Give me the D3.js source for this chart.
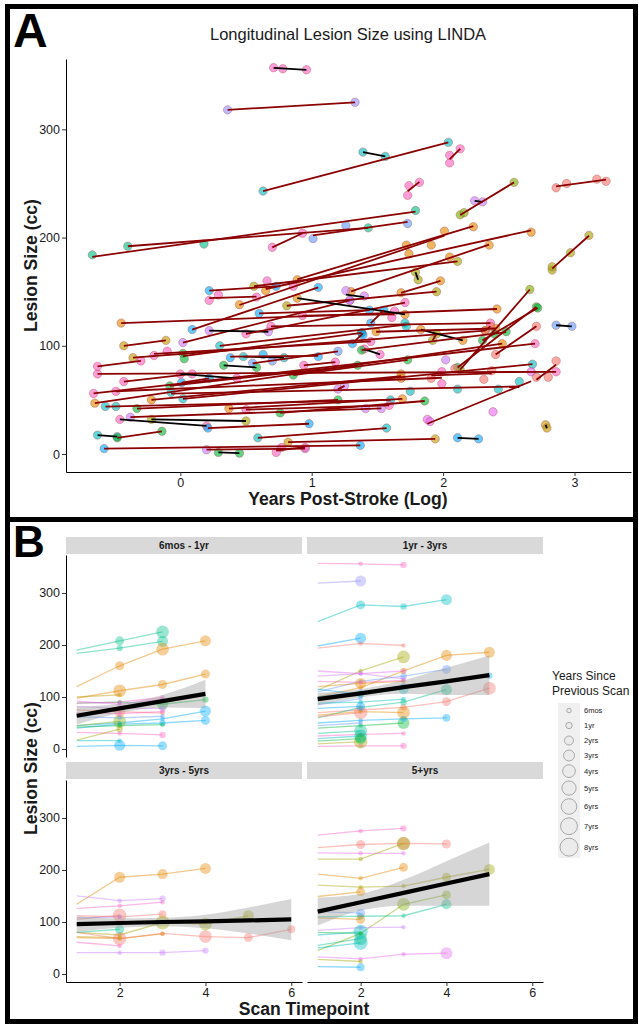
<!DOCTYPE html>
<html>
<head>
<meta charset="utf-8">
<script src="https://cdn.jsdelivr.net/npm/d3@7"></script>
<style>
    body { margin: 0; background: #fff; }
    text { font-family: "Liberation Sans", Arial, sans-serif; }
</style>
</head>
<body>
<div id="chart"></div>
<script>

// ---- Data ----

// Panel A: one entry per subject, x = log years post-stroke, y = lesion size (cc)
var subjectsA = [
    {col: "pk", x: [0.71, 0.78, 0.96], y: [357, 356, 355]},
    {col: "lv", x: [0.36, 1.33], y: [318, 325]},
    {col: "tl", x: [0.63, 2.04], y: [243, 288]},
    {col: "tl", x: [1.39, 1.56], y: [279, 275]},
    {col: "pk", x: [2.05, 2.05, 2.13], y: [269, 276, 282]},
    {col: "pk", x: [1.73, 1.74, 1.82], y: [239, 248, 251]},
    {col: "sg", x: [-0.67, 0.18, 1.79], y: [184, 194, 225]},
    {col: "sg", x: [-0.40, 1.43], y: [192, 209]},
    {col: "pk", x: [0.70, 0.93], y: [191, 204]},
    {col: "lb", x: [1.01, 1.26, 1.73], y: [199, 211, 213]},
    {col: "pu", x: [2.24, 2.30], y: [234, 233]},
    {col: "yg", x: [2.13, 2.16, 2.54], y: [221, 223, 251]},
    {col: "sa", x: [2.86, 2.94, 3.17, 3.24], y: [246, 250, 254, 252]},
    {col: "ol", x: [2.83, 2.83, 2.97, 3.11], y: [170, 173, 186, 202]},
    {col: "or", x: [0.89, 1.72, 2.23], y: [161, 193, 210]},
    {col: "or", x: [0.65, 1.74, 2.67], y: [151, 185, 205]},
    {col: "or", x: [0.45, 1.91, 2.01], y: [138, 193, 206]},
    {col: "or", x: [1.30, 2.05, 2.35], y: [150, 182, 193]},
    {col: "bl", x: [0.09, 1.05], y: [115, 154]},
    {col: "ol", x: [1.79, 1.81], y: [168, 161]},
    {col: "pk", x: [0.22, 0.29, 0.58], y: [142, 147, 145]},
    {col: "bl", x: [0.22, 0.73], y: [151, 155]},
    {col: "pk", x: [0.66], y: [160]},
    {col: "pk", x: [0.86], y: [155]},
    {col: "ol", x: [0.56, 2.11], y: [155, 178]},
    {col: "or", x: [-0.45, 2.41], y: [121, 134]},
    {col: "pk", x: [-0.63, 2.86], y: [74, 76]},
    {col: "pk", x: [-0.63, -0.30], y: [81, 86]},
    {col: "pk", x: [-0.66, 2.70], y: [56, 102]},
    {col: "or", x: [-0.65, 2.45], y: [47, 102]},
    {col: "tl", x: [-0.57, -0.49, 1.60], y: [44, 44, 50]},
    {col: "tl", x: [-0.63, -0.48], y: [17.5, 16]},
    {col: "gr", x: [-0.48, -0.14], y: [15, 21]},
    {col: "bl", x: [-0.58, 1.37], y: [5, 8]},
    {col: "pk", x: [-0.49, 1.99, 1.99], y: [58, 65, 76]},
    {col: "pk", x: [-0.43, 0.09], y: [67, 74]},
    {col: "pk", x: [0.00, 0.43], y: [74, 70]},
    {col: "pk", x: [-0.46, 0.20], y: [32, 26]},
    {col: "pu", x: [-0.38, 1.41, 1.53], y: [34, 42, 42]},
    {col: "go", x: [-0.36, 2.32], y: [89, 114]},
    {col: "go", x: [-0.43, -0.11], y: [100, 105]},
    {col: "gr", x: [-0.33, 1.20], y: [42, 50]},
    {col: "ol", x: [-0.22, 0.50], y: [32, 30.5]},
    {col: "pk", x: [-0.20, -0.10, 1.45], y: [91, 95, 104]},
    {col: "or", x: [-0.22, 1.68, 1.68], y: [50, 70, 74]},
    {col: "gr", x: [-0.08, 1.35], y: [63, 82]},
    {col: "tl", x: [-0.07, 1.75, 2.11, 2.42, 2.58], y: [57, 58, 60, 60, 67]},
    {col: "tl", x: [0.02, 2.68], y: [51, 83]},
    {col: "bl", x: [0.01, 0.22], y: [66, 70]},
    {col: "pu", x: [0.02, 1.29], y: [103, 142]},
    {col: "gr", x: [0.02, 0.03, 1.38], y: [93, 88, 112]},
    {col: "bl", x: [0.21, 0.98], y: [24, 28]},
    {col: "pu", x: [0.20, 0.95], y: [4, 5]},
    {col: "gr", x: [0.29, 0.45], y: [1.5, 0.8]},
    {col: "pu", x: [0.22, 0.67], y: [114, 113]},
    {col: "or", x: [0.37, 1.69], y: [42, 51]},
    {col: "pk", x: [0.50, 1.59], y: [41, 45]},
    {col: "gr", x: [0.33, 0.58], y: [82, 80]},
    {col: "tl", x: [0.48, 0.79], y: [90, 89]},
    {col: "pk", x: [0.50, 1.71], y: [111, 140]},
    {col: "ol", x: [0.81, 1.95], y: [137, 150]},
    {col: "pk", x: [0.73, 0.77, 0.95], y: [1.5, 6, 6]},
    {col: "go", x: [0.82, 1.94], y: [11, 14]},
    {col: "tl", x: [0.59, 1.57], y: [15, 24]},
    {col: "gr", x: [0.76, 1.86], y: [38, 49]},
    {col: "gr", x: [0.86, 1.73], y: [73, 87]},
    {col: "pk", x: [1.40, 1.52], y: [97, 92]},
    {col: "pk", x: [0.93, 1.61, 1.63], y: [128, 126, 132]},
    {col: "pk", x: [0.69, 2.36], y: [118, 121]},
    {col: "or", x: [0.89, 1.71], y: [144, 129]},
    {col: "bl", x: [0.60, 1.44], y: [130, 133]},
    {col: "pu", x: [1.26, 1.29, 1.40], y: [151, 142, 146]},
    {col: "tl", x: [0.30, 1.71, 1.72], y: [100, 121, 118]},
    {col: "or", x: [1.83, 2.15], y: [115, 105]},
    {col: "ol", x: [1.92, 1.95], y: [105, 111]},
    {col: "or", x: [1.49, 2.40], y: [113, 116]},
    {col: "bl", x: [1.31, 1.38, 1.39], y: [102, 112, 110]},
    {col: "gr", x: [1.38, 2.39, 2.48], y: [96, 111, 113]},
    {col: "or", x: [1.68, 1.98], y: [149, 160]},
    {col: "gr", x: [2.11, 2.71], y: [80, 136]},
    {col: "yg", x: [2.13, 2.66], y: [78, 152]},
    {col: "gr", x: [2.30, 2.72], y: [105, 135]},
    {col: "sa", x: [1.91, 2.09, 2.31, 2.37], y: [70, 79, 69, 77]},
    {col: "sa", x: [2.71, 2.80, 2.86], y: [71, 71, 86]},
    {col: "lb", x: [2.86, 2.98], y: [119, 118]},
    {col: "go", x: [2.78, 2.79], y: [27, 24]},
    {col: "bl", x: [2.11, 2.27], y: [15, 14]},
    {col: "mg", x: [1.88, 1.90, 2.38, 2.67], y: [32, 30, 39, 76]},
    {col: "sa", x: [2.40, 2.71], y: [92, 118]},
    {col: "sa", x: [2.32, 2.36], y: [114, 118]},
    {col: "bl", x: [0.38, 0.63, 1.05], y: [89, 92, 90]},
    {col: "lb", x: [0.55, 0.70, 1.20], y: [84, 86, 95]},
    {col: "pk", x: [0.94, 1.18], y: [82, 85]},
    {col: "pu", x: [1.20, 1.25], y: [60, 63]},
    {col: "bl", x: [1.45, 1.55], y: [121, 133]},
    {col: "pu", x: [2.02], y: [87]}
];

var xTicksA = [0, 1, 2, 3];
var yTicksA = [0, 100, 200, 300];

// Panel B: facets by time post-stroke at baseline, y by scan timepoint (1, 2, ...)
// gap = years since the previous scan (no point drawn for the first scan)
var facetNames = ["6mos - 1yr", "1yr - 3yrs", "3yrs - 5yrs", "5+yrs"];

var facet6mo = [
    {col: "sg", y: [190, 208, 225], gap: [null, 2, 4]},
    {col: "sg", y: [184, 194, 207], gap: [null, 1, 3]},
    {col: "or", y: [120, 160, 192, 208], gap: [null, 2, 4, 3]},
    {col: "or", y: [98, 112, 124, 144], gap: [null, 4, 2, 2]},
    {col: "gr", y: [88, 90, 86, 95], gap: [null, 0.5, 3, 1]},
    {col: "bl", y: [45, 50, 58, 73], gap: [null, 0.5, 0.5, 3]},
    {col: "bl", y: [40, 48, 50, 55], gap: [null, 0.5, 1, 2]},
    {col: "bl", y: [5, 7, 6], gap: [null, 3, 2]},
    {col: "yg", y: [45, 53], gap: [null, 4]},
    {col: "pk", y: [88, 90, 99], gap: [null, 0.5, 0.5]},
    {col: "pk", y: [32, 30, 27], gap: [null, 0.5, 1]},
    {col: "tl", y: [16, 16], gap: [null, 0.5]},
    {col: "ol", y: [17, 38], gap: [null, 1]},
    {col: "sa", y: [75, 72, 69], gap: [null, 3, 0.5]},
    {col: "pu", y: [82, 78, 78], gap: [null, 0.5, 1]},
    {col: "go", y: [100, 104], gap: [null, 0.5]},
    {col: "pk", y: [70, 68, 72], gap: [null, 0.5, 0.5]},
    {col: "lb", y: [62, 60, 63], gap: [null, 0.5, 0.5]},
    {col: "gr", y: [42, 45, 47], gap: [null, 0.5, 0.5]},
    {col: "mg", y: [92, 86, 96], gap: [null, 0.5, 0.5]}
];

var facet1yr = [
    {col: "pk", y: [357, 356, 354], gap: [null, 0.5, 1]},
    {col: "lv", y: [319, 323], gap: [null, 3]},
    {col: "tl", y: [245, 277, 274, 287], gap: [null, 2, 1, 3]},
    {col: "bl", y: [198, 213], gap: [null, 3]},
    {col: "sa", y: [194, 203, 199], gap: [null, 0.5, 0.5]},
    {col: "ol", y: [113, 150, 177], gap: [null, 0.5, 4]},
    {col: "or", y: [100, 118, 150, 180, 186], gap: [null, 0.5, 1, 3, 3]},
    {col: "lb", y: [110, 130, 140, 153], gap: [null, 0.5, 1, 2]},
    {col: "sa", y: [70, 75, 80, 91, 117], gap: [null, 0.5, 1, 2, 4]},
    {col: "bl", y: [100, 110, 120, 130, 141], gap: [null, 0.5, 1, 0.5, 1]},
    {col: "sg", y: [60, 80, 90, 114], gap: [null, 0.5, 1, 3]},
    {col: "gr", y: [40, 45, 50], gap: [null, 0.5, 3.5]},
    {col: "bl", y: [50, 55, 58, 60], gap: [null, 0.5, 1, 1.5]},
    {col: "pk", y: [25, 28, 30], gap: [null, 0.5, 0.5]},
    {col: "pk", y: [5, 6, 6], gap: [null, 0.5, 1]},
    {col: "ol", y: [10, 14], gap: [null, 4.5]},
    {col: "tl", y: [20, 25], gap: [null, 4]},
    {col: "sa", y: [62, 70], gap: [null, 4.5]},
    {col: "or", y: [65, 72, 70], gap: [null, 0.5, 4]},
    {col: "lb", y: [85, 97], gap: [null, 0.5]},
    {col: "pu", y: [140, 145, 135], gap: [null, 0.5, 0.5]},
    {col: "mg", y: [150, 145, 150], gap: [null, 0.5, 0.5]},
    {col: "bl", y: [115, 105], gap: [null, 1]},
    {col: "tl", y: [95, 105, 115], gap: [null, 1, 2.5]},
    {col: "or", y: [120, 126, 130], gap: [null, 3, 0.5]},
    {col: "sg", y: [30, 35], gap: [null, 4]},
    {col: "bl", y: [78, 82], gap: [null, 2]},
    {col: "gr", y: [15, 20], gap: [null, 3]},
    {col: "lb", y: [45, 50], gap: [null, 0.5]},
    {col: "pk", y: [130, 128, 132], gap: [null, 0.5, 0.5]},
    {col: "tl", y: [88, 90, 96], gap: [null, 0.5, 0.5]}
];

var facet3yr = [
    {col: "or", y: [134, 186, 192, 203], gap: [null, 3, 2.5, 3]},
    {col: "pu", y: [150, 141, 145], gap: [null, 0.5, 1]},
    {col: "pk", y: [126, 131, 138], gap: [null, 0.5, 0.5]},
    {col: "sa", y: [105, 113], gap: [null, 4.5]},
    {col: "sa", y: [112, 110, 115], gap: [null, 0.5, 1.5]},
    {col: "lv", y: [108, 110], gap: [null, 0.5]},
    {col: "ol", y: [80, 75, 99, 96, 112], gap: [null, 0.5, 5, 4, 3]},
    {col: "sa", y: [80, 68, 78, 72, 70, 86], gap: [null, 4.5, 0.5, 4, 2, 1.5]},
    {col: "sg", y: [80, 86], gap: [null, 2]},
    {col: "or", y: [70, 68, 77], gap: [null, 0.5, 0.5]},
    {col: "pk", y: [61, 54], gap: [null, 0.5]},
    {col: "pu", y: [41, 41, 41, 45], gap: [null, 0.5, 1, 1]},
    {col: "go", y: [72, 70], gap: [null, 0.5]}
];

var facet5yr = [
    {col: "pk", y: [267, 275, 280], gap: [null, 0.5, 1]},
    {col: "sa", y: [243, 249, 251, 250], gap: [null, 2, 4, 2]},
    {col: "mg", y: [233, 232, 232], gap: [null, 0.5, 0.5]},
    {col: "ol", y: [221, 221, 251], gap: [null, 0.5, 4.5]},
    {col: "or", y: [192, 184, 205], gap: [null, 0.5, 2]},
    {col: "ol", y: [171, 167, 169, 186, 201], gap: [null, 0.5, 0.5, 2, 3]},
    {col: "or", y: [149, 158], gap: [null, 2]},
    {col: "yg", y: [45, 78, 134, 152], gap: [null, 0.5, 4, 2]},
    {col: "sg", y: [110, 111, 112, 134], gap: [null, 1, 0.5, 2.5]},
    {col: "lb", y: [120, 117], gap: [null, 2]},
    {col: "or", y: [108, 105], gap: [null, 2]},
    {col: "pu", y: [84, 89, 90], gap: [null, 0.5, 0.5]},
    {col: "tl", y: [75, 81], gap: [null, 5]},
    {col: "tl", y: [50, 60], gap: [null, 5]},
    {col: "sg", y: [55, 68], gap: [null, 4]},
    {col: "mg", y: [33, 29, 38, 40], gap: [null, 0.5, 0.5, 3.5]},
    {col: "ol", y: [28, 24], gap: [null, 0.5]},
    {col: "bl", y: [14, 13], gap: [null, 1.5]},
    {col: "gr", y: [80, 78], gap: [null, 0.5]}
];

// Linear fit with 95% band for each facet
var trendB = [
    {t: [1, 2, 3, 4], fit: [64, 78, 92, 106], lo: [47, 69, 80, 79], hi: [81, 87, 104, 133]},
    {t: [1, 2, 3, 4, 5], fit: [96, 107, 119, 130, 142], lo: [84, 99, 106, 104, 104], hi: [108, 115, 132, 156, 180]},
    {t: [1, 2, 3, 4, 5, 6], fit: [96, 98, 100, 101, 103, 105], lo: [81, 89, 92, 88, 78, 65], hi: [111, 107, 108, 114, 128, 144]},
    {t: [1, 2, 3, 4, 5], fit: [120, 138, 156, 174, 192], lo: [93, 122, 131, 131, 131], hi: [147, 154, 181, 217, 253]}
];

var xTicksB = [2, 4, 6];
var yTicksB = [0, 100, 200, 300];

var legendValues = [0.5, 1, 2, 3, 4, 5, 6, 7, 8];
var legendLabels = ["6mos", "1yr", "2yrs", "3yrs", "4yrs", "5yrs", "6yrs", "7yrs", "8yrs"];

// ---- Styles ----
var palette = {
    pk: "#FF61C3", mg: "#E76BF3", pu: "#C77CFF", lv: "#9590FF", lb: "#619CFF",
    bl: "#00A9FF", tl: "#00BFC4", sg: "#00C08B", gr: "#00BA38", yg: "#7CAE00",
    ol: "#A3A500", go: "#C49A00", or: "#E58700", sa: "#F8766D"
};
var textColor = "#1a1a1a";
var intFormat = d3.format("d");

var svg = d3.select("#chart")
    .append("svg")
    .attr("width", 639)
    .attr("height", 1025);

// Frames around the two panels
svg.append("rect").attr("x", 7.5).attr("y", 6.5).attr("width", 628).attr("height", 513)
    .attr("fill", "none").attr("stroke", "black").attr("stroke-width", 5);
svg.append("rect").attr("x", 7.5).attr("y", 519.5).attr("width", 628).attr("height", 502)
    .attr("fill", "none").attr("stroke", "black").attr("stroke-width", 5);

svg.append("text").attr("x", 13).attr("y", 47).attr("font-size", 48).attr("font-weight", "bold").text("A");
svg.append("text").attr("x", 13).attr("y", 557).attr("font-size", 44).attr("font-weight", "bold").text("B");

// Least squares line across a subject's x range
function fitLine(xs, ys) {
    var mx = d3.mean(xs), my = d3.mean(ys);
    var sxx = d3.sum(xs, function (x) { return (x - mx) * (x - mx); });
    var sxy = d3.sum(xs, function (x, i) { return (x - mx) * (ys[i] - my); });
    var slope = sxx === 0 ? 0 : sxy / sxx;
    var x0 = d3.min(xs), x1 = d3.max(xs);
    return {x0: x0, x1: x1, y0: my + slope * (x0 - mx), y1: my + slope * (x1 - mx), slope: slope};
}

function styleAxis(g) {
    g.select(".domain").attr("stroke", "black").attr("stroke-width", 1);
    g.selectAll(".tick line").attr("stroke", "#333");
    g.selectAll(".tick text").attr("fill", textColor).attr("font-size", 12.5)
        .attr("font-family", "Liberation Sans, Arial, sans-serif");
}

// ---- Panel A ----
var areaA = {left: 66, right: 631, top: 59, bottom: 472};
var xA = d3.scaleLinear().domain([-0.87, 3.43]).range([areaA.left, areaA.right]);
var yA = d3.scaleLinear().domain([-16.6, 365]).range([areaA.bottom, areaA.top]);

var panelA = svg.append("g");

panelA.append("g")
    .attr("transform", "translate(0," + areaA.bottom + ")")
    .call(d3.axisBottom(xA).tickValues(xTicksA).tickFormat(intFormat).tickSize(4).tickSizeOuter(0).tickPadding(2))
    .call(styleAxis);
panelA.append("g")
    .attr("transform", "translate(" + areaA.left + ",0)")
    .call(d3.axisLeft(yA).tickValues(yTicksA).tickFormat(intFormat).tickSize(4).tickSizeOuter(0).tickPadding(2))
    .call(styleAxis);

// points first, fit lines drawn on top
subjectsA.forEach(function (s) {
    s.x.forEach(function (x, i) {
        panelA.append("circle")
            .attr("cx", xA(x))
            .attr("cy", yA(s.y[i]))
            .attr("r", 4.2)
            .attr("fill", palette[s.col])
            .attr("fill-opacity", 0.62)
            .attr("stroke", "#a04040")
            .attr("stroke-opacity", 0.4)
            .attr("stroke-width", 0.9);
    });
});
subjectsA.forEach(function (s) {
    if (s.x.length < 2) return;
    var f = fitLine(s.x, s.y);
    panelA.append("line")
        .attr("x1", xA(f.x0)).attr("y1", yA(f.y0))
        .attr("x2", xA(f.x1)).attr("y2", yA(f.y1))
        .attr("stroke", f.slope > 0 ? "#8B0000" : "black")
        .attr("stroke-width", 1.8);
});

panelA.append("text").attr("x", 348).attr("y", 40).attr("text-anchor", "middle")
    .attr("font-size", 16.5).attr("fill", textColor).text("Longitudinal Lesion Size using LINDA");
panelA.append("text").attr("x", 348).attr("y", 505).attr("text-anchor", "middle")
    .attr("font-size", 17.6).attr("font-weight", "bold").attr("fill", textColor).text("Years Post-Stroke (Log)");
panelA.append("text").attr("transform", "translate(37," + ((areaA.top + areaA.bottom) / 2) + ") rotate(-90)")
    .attr("text-anchor", "middle").attr("font-size", 17.6).attr("font-weight", "bold")
    .attr("fill", textColor).text("Lesion Size (cc)");

// ---- Panel B ----
var cols = [[66, 302], [307, 543]];
var rows = [{strip: [537, 554], plot: [555, 757]}, {strip: [762, 779], plot: [780, 982]}];
var facetData = [facet6mo, facet1yr, facet3yr, facet5yr];
var sizeScale = d3.scaleSqrt().domain([0, 8]).range([0, 9]);

facetData.forEach(function (subjects, k) {
    var c = cols[k % 2], r = rows[Math.floor(k / 2)];
    var xS = d3.scaleLinear().domain([0.75, 6.25]).range(c);
    var yS = d3.scaleLinear().domain([-15.4, 373]).range([r.plot[1], r.plot[0]]);
    var g = svg.append("g");

    // strip
    g.append("rect").attr("x", c[0]).attr("y", r.strip[0]).attr("width", c[1] - c[0])
        .attr("height", r.strip[1] - r.strip[0]).attr("fill", "#d9d9d9");
    g.append("text").attr("x", (c[0] + c[1]) / 2).attr("y", (r.strip[0] + r.strip[1]) / 2 + 3.6)
        .attr("text-anchor", "middle").attr("font-size", 10).attr("font-weight", "bold")
        .attr("fill", textColor).text(facetNames[k]);

    // subject trajectories
    var line = d3.line().x(function (d, i) { return xS(i + 1); }).y(function (d) { return yS(d); });
    subjects.forEach(function (s) {
        g.append("path").attr("d", line(s.y)).attr("fill", "none")
            .attr("stroke", palette[s.col]).attr("stroke-opacity", 0.45).attr("stroke-width", 1.3);
    });
    subjects.forEach(function (s) {
        s.y.forEach(function (v, i) {
            if (s.gap[i] == null) return;
            g.append("circle").attr("cx", xS(i + 1)).attr("cy", yS(v)).attr("r", sizeScale(s.gap[i]))
                .attr("fill", palette[s.col]).attr("fill-opacity", 0.4);
        });
    });

    // fit with confidence band
    var tr = trendB[k];
    var band = d3.area().curve(d3.curveMonotoneX)
        .x(function (d, i) { return xS(tr.t[i]); })
        .y0(function (d, i) { return yS(tr.lo[i]); })
        .y1(function (d, i) { return yS(tr.hi[i]); });
    g.append("path").attr("d", band(tr.t)).attr("fill", "#999").attr("fill-opacity", 0.4);
    g.append("path").attr("d", line.x(function (d, i) { return xS(tr.t[i]); })(tr.fit))
        .attr("fill", "none").attr("stroke", "black").attr("stroke-width", 4.2);

    // axes on outer facets only
    if (k % 2 === 0) {
        g.append("g").attr("transform", "translate(" + c[0] + ",0)")
            .call(d3.axisLeft(yS).tickValues(yTicksB).tickFormat(intFormat).tickSize(4).tickSizeOuter(0).tickPadding(2))
            .call(styleAxis);
    }
    if (k >= 2) {
        g.append("g").attr("transform", "translate(0," + r.plot[1] + ")")
            .call(d3.axisBottom(xS).tickValues(xTicksB).tickFormat(intFormat).tickSize(4).tickSizeOuter(0).tickPadding(2))
            .call(styleAxis);
    }
});

svg.append("text").attr("x", 304).attr("y", 1015).attr("text-anchor", "middle")
    .attr("font-size", 17.6).attr("font-weight", "bold").attr("fill", textColor).text("Scan Timepoint");
svg.append("text").attr("transform", "translate(37," + ((555 + 982) / 2) + ") rotate(-90)")
    .attr("text-anchor", "middle").attr("font-size", 17.6).attr("font-weight", "bold")
    .attr("fill", textColor).text("Lesion Size (cc)");

// ---- Size legend ----
var legend = svg.append("g");
legend.append("text").attr("x", 552).attr("y", 680).attr("font-size", 12).attr("fill", textColor).text("Years Since");
legend.append("text").attr("x", 552).attr("y", 695).attr("font-size", 12).attr("fill", textColor).text("Previous Scan");

var keyY = 703;
var keys = legendValues.map(function (v, i) {
    var rr = sizeScale(v), h = Math.max(15, 2 * rr + 3.5);
    var k = {r: rr, cy: keyY + h / 2, label: legendLabels[i]};
    keyY += h;
    return k;
});
legend.append("rect").attr("x", 558).attr("y", 703).attr("width", 22).attr("height", keyY - 703).attr("fill", "#f0f0f0");
keys.forEach(function (k) {
    legend.append("circle").attr("cx", 569).attr("cy", k.cy).attr("r", k.r)
        .attr("fill", "#ebebeb").attr("stroke", "#a8a8a8").attr("stroke-width", 1);
    legend.append("text").attr("x", 584).attr("y", k.cy + 2.6).attr("font-size", 7.5)
        .attr("fill", textColor).text(k.label);
});
</script>
</body>
</html>
